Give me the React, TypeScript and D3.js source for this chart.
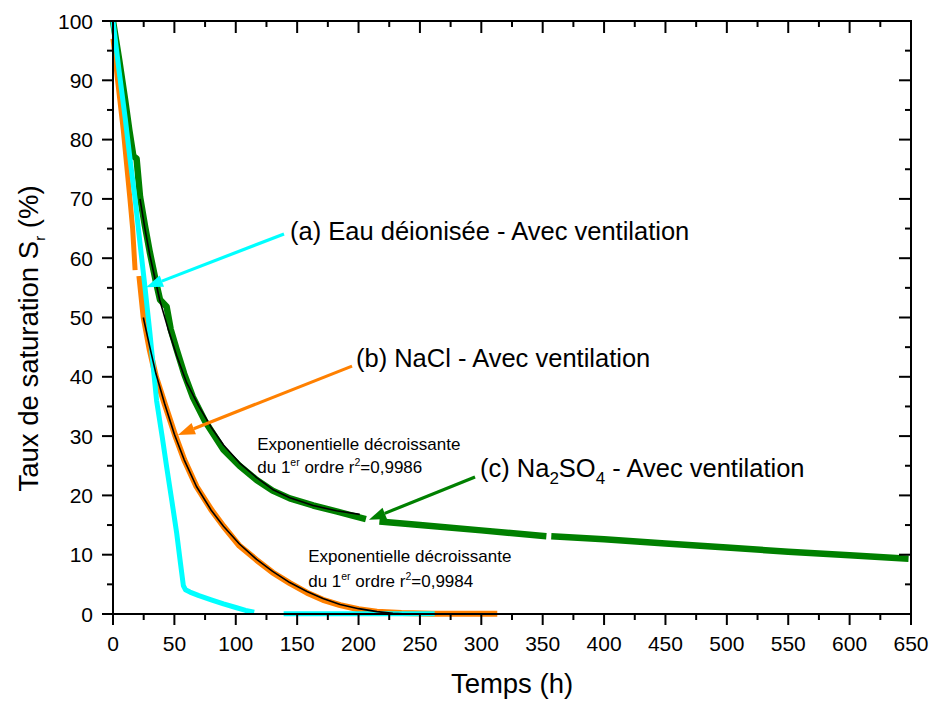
import React from "react";
import * as d3 from "d3";

// ---------- data ----------
const xTickValues = [0, 50, 100, 150, 200, 250, 300, 350, 400, 450, 500, 550, 600, 650];
const xMinorValues = [25, 75, 125, 175, 225, 275, 325, 375, 425, 475, 525, 575, 625];
const yTickValues = [0, 10, 20, 30, 40, 50, 60, 70, 80, 90, 100];
const yMinorValues = [5, 15, 25, 35, 45, 55, 65, 75, 85, 95];

// (a) Eau déionisée
const cyanSeg1: [number, number][] = [
  [0, 100], [5, 91.5], [10, 83.5], [14, 76.5], [18, 70], [22, 62.5], [26, 55.2], [30, 47.5],
  [35.5, 36], [40, 30], [43.7, 24.8], [48, 19], [51.9, 13.6], [55, 8.5], [57.3, 4.8], [59, 4.1],
  [62.7, 3.7], [70, 3.1], [80, 2.4], [90, 1.7], [100, 1.1], [108, 0.6], [115, 0.3],
];
const cyanSeg2: [number, number][] = [[139, 0.05], [200, 0.05], [262, 0.05]];

// (b) NaCl
const orangeSeg1: [number, number][] = [[0, 97], [4, 89.5], [8.4, 81.6], [13.8, 70], [16, 65], [18, 58]];
const orangeSeg2: [number, number][] = [
  [21.5, 57], [25, 50], [30, 44.5], [35, 40], [42, 35.5], [50.5, 30.2], [58, 26], [68, 21.5],
  [80, 17.6], [90, 14.8], [103, 11.5], [117, 9.1], [130, 7], [144, 5.2], [158, 3.6], [171, 2.4],
  [185, 1.5], [200, 0.8], [215, 0.4], [235, 0.15], [260, 0.05], [313, 0.05],
];

// (c) Na2SO4
const greenSeg1: [number, number][] = [
  [0, 100], [5, 93.5], [10, 86.5], [13.3, 81.6], [16.6, 77.2], [19.2, 76.8], [22, 70.4],
  [26, 65.5], [30, 61], [35, 56], [38.3, 53], [43.7, 51.8], [47, 48], [52, 44.5], [58, 40.5],
  [65, 36.6], [75, 32.5], [90, 27.7], [103, 25], [117, 22.6], [130, 20.8], [144, 19.5],
  [163, 18.3], [182, 17.3], [195, 16.6], [206, 16],
];
const greenSeg2: [number, number][] = [[217, 15.6], [250, 15], [300, 14.1], [353, 13.1]];
const greenSeg3: [number, number][] = [
  [357, 13.1], [400, 12.6], [450, 11.9], [500, 11.2], [550, 10.5], [600, 9.9], [648, 9.3],
];

// first order exponential fits
const fitNa2SO4: [number, number][] = [
  [22, 70], [26, 65], [30, 60.5], [38, 53], [45, 48], [52, 43.5], [60, 39], [70, 35], [80, 31.5],
  [90, 28.5], [103, 25.5], [117, 23], [130, 21], [144, 19.6], [163, 18.3], [182, 17.4], [201, 16.8],
];
const fitNaCl: [number, number][] = [
  [24.7, 50], [30, 45], [35, 40.5], [42, 35.5], [50, 30.3], [58, 26], [68, 21.5], [80, 17.5],
  [90, 14.8], [103, 11.8], [117, 9.2], [130, 7.2], [144, 5.3], [158, 3.8], [171, 2.6], [185, 1.6],
  [200, 0.9], [215, 0.4], [228, 0.1], [240, 0],
];

// annotation arrows: [start, tip] in data units
const arrowA: [number, number][] = [[139.3, 64.1], [26.9, 55.1]];
const arrowB: [number, number][] = [[194.7, 41.8], [52.9, 30.2]];
const arrowC: [number, number][] = [[294.9, 23.1], [208.5, 15.9]];

const labelA = "(a) Eau déionisée - Avec ventilation";
const labelB = "(b) NaCl - Avec ventilation";
const fitLine1 = "Exponentielle décroissante";
const r2Na2SO4 = "0,9986";
const r2NaCl = "0,9984";

const CYAN = "#00FFFF";
const ORANGE = "#FF8000";
const GREEN = "#008000";
const FONT = "'Liberation Sans', Arial, Helvetica, sans-serif";

const W = 932;
const H = 702;
const M = { left: 113, right: 21, top: 21, bottom: 88 };

export default function App() {
  const x = d3.scaleLinear().domain([0, 650]).range([M.left, W - M.right]);
  const y = d3.scaleLinear().domain([0, 100]).range([H - M.bottom, M.top]);
  const line = d3
    .line<[number, number]>()
    .x((d) => x(d[0]))
    .y((d) => y(d[1]));

  const x0 = M.left;
  const x1 = W - M.right;
  const y0 = H - M.bottom;
  const y1 = M.top;

  const arrow = (a: [number, number][], color: string, key: string) => {
    const sx = x(a[0][0]);
    const sy = y(a[0][1]);
    const tx = x(a[1][0]);
    const ty = y(a[1][1]);
    const ang = Math.atan2(ty - sy, tx - sx);
    const len = 17;
    const hw = 6;
    const bx = tx - len * Math.cos(ang);
    const by = ty - len * Math.sin(ang);
    const px = -Math.sin(ang) * hw;
    const py = Math.cos(ang) * hw;
    return (
      <g key={key}>
        <line x1={sx} y1={sy} x2={bx} y2={by} stroke={color} strokeWidth={3.2} />
        <polygon
          points={`${tx},${ty} ${bx + px},${by + py} ${bx - px},${by - py}`}
          fill={color}
        />
      </g>
    );
  };

  return (
    <svg
      width={W}
      height={H}
      style={{ position: "absolute", left: 0, top: 0, background: "#fff" }}
      fontFamily={FONT}
    >
      <rect x={0} y={0} width={W} height={H} fill="#fff" />

      {/* data */}
      <g fill="none" strokeLinejoin="round">
        <path d={line(orangeSeg1)!} stroke={ORANGE} strokeWidth={5} />
        <path d={line(orangeSeg2)!} stroke={ORANGE} strokeWidth={6} />
        <path d={line(greenSeg1)!} stroke={GREEN} strokeWidth={6.5} />
        <path d={line(greenSeg2)!} stroke={GREEN} strokeWidth={6.5} />
        <path d={line(greenSeg3)!} stroke={GREEN} strokeWidth={6.5} />
        <path d={line(cyanSeg1)!} stroke={CYAN} strokeWidth={5} />
        <path d={line(cyanSeg2)!} stroke={CYAN} strokeWidth={5} />
        <path d={line(fitNa2SO4)!} stroke="#000" strokeWidth={1.6} />
        <path d={line(fitNaCl)!} stroke="#000" strokeWidth={1.6} />
      </g>

      {/* frame */}
      <rect x={x0} y={y1} width={x1 - x0} height={y0 - y1} fill="none" stroke="#000" strokeWidth={2} />

      {/* ticks */}
      <g stroke="#000" strokeWidth={2}>
        {xTickValues.map((v) => (
          <g key={"xt" + v}>
            <line x1={x(v)} x2={x(v)} y1={y0} y2={y0 + 11} />
            <line x1={x(v)} x2={x(v)} y1={y1} y2={y1 + 12} />
          </g>
        ))}
        {xMinorValues.map((v) => (
          <g key={"xm" + v}>
            <line x1={x(v)} x2={x(v)} y1={y0} y2={y0 + 6} />
            <line x1={x(v)} x2={x(v)} y1={y1} y2={y1 + 6} />
          </g>
        ))}
        {yTickValues.map((v) => (
          <g key={"yt" + v}>
            <line x1={x0 - 11} x2={x0} y1={y(v)} y2={y(v)} />
            <line x1={x1 - 12} x2={x1} y1={y(v)} y2={y(v)} />
          </g>
        ))}
        {yMinorValues.map((v) => (
          <g key={"ym" + v}>
            <line x1={x0 - 6} x2={x0} y1={y(v)} y2={y(v)} />
            <line x1={x1 - 6} x2={x1} y1={y(v)} y2={y(v)} />
          </g>
        ))}
      </g>

      {/* tick labels */}
      <g fontSize={21} fill="#000">
        {xTickValues.map((v) => (
          <text key={"xl" + v} x={x(v)} y={y0 + 37} textAnchor="middle">
            {v}
          </text>
        ))}
        {yTickValues.map((v) => (
          <text key={"yl" + v} x={x0 - 20} y={y(v) + 7.5} textAnchor="end">
            {v}
          </text>
        ))}
      </g>

      {/* axis titles */}
      <text x={(x0 + x1) / 2} y={693} textAnchor="middle" fontSize={27.5} fill="#000">
        Temps (h)
      </text>
      <text
        transform={`translate(38, ${(y0 + y1) / 2 + 21}) rotate(-90)`}
        textAnchor="middle"
        fontSize={27.5}
        fill="#000"
      >
        Taux de saturation S
        <tspan fontSize={15} dy={7}>r</tspan>
        <tspan dy={-7}> (%)</tspan>
      </text>

      {/* annotations */}
      {arrow(arrowA, CYAN, "aa")}
      {arrow(arrowB, ORANGE, "ab")}
      {arrow(arrowC, GREEN, "ac")}

      <g fill="#000">
        <text x={x(144.2)} y={y(63.1)} fontSize={25.5}>{labelA}</text>
        <text x={x(197.9)} y={y(41.7)} fontSize={25.5}>{labelB}</text>
        <text x={x(298.9)} y={y(23.1)} fontSize={25.5}>
          (c) Na
          <tspan fontSize={17} dy={7}>2</tspan>
          <tspan dy={-7}>SO</tspan>
          <tspan fontSize={17} dy={7}>4</tspan>
          <tspan dy={-7}> - Avec ventilation</tspan>
        </text>

        <g fontSize={17}>
          <text x={x(117.5)} y={y(27.7)}>{fitLine1}</text>
          <text x={x(117.5)} y={y(23.7)}>
            du 1<tspan fontSize={10.5} dy={-7}>er</tspan>
            <tspan dy={7}> ordre r</tspan>
            <tspan fontSize={10.5} dy={-7}>2</tspan>
            <tspan dy={7}>={r2Na2SO4}</tspan>
          </text>
          <text x={x(159)} y={y(8.8)}>{fitLine1}</text>
          <text x={x(159)} y={y(4.6)}>
            du 1<tspan fontSize={10.5} dy={-7}>er</tspan>
            <tspan dy={7}> ordre r</tspan>
            <tspan fontSize={10.5} dy={-7}>2</tspan>
            <tspan dy={7}>={r2NaCl}</tspan>
          </text>
        </g>
      </g>
    </svg>
  );
}
